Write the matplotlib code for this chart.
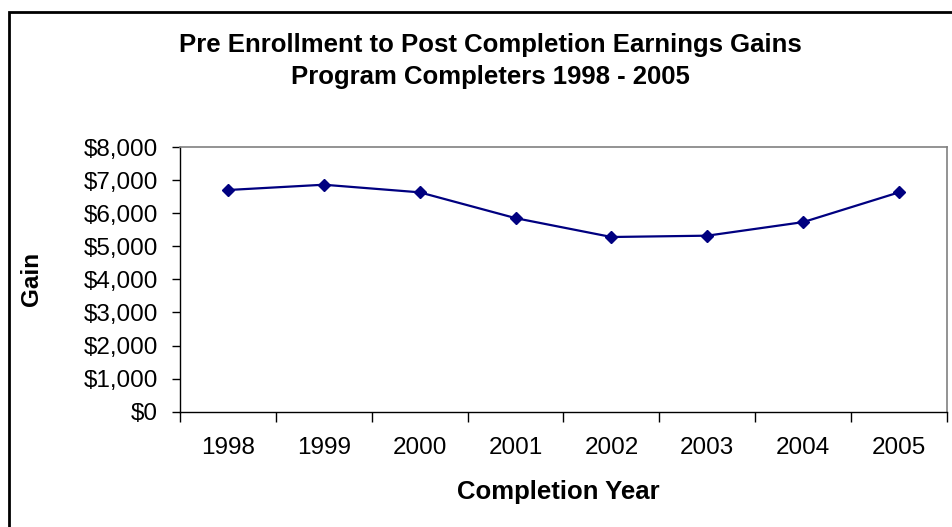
import matplotlib.pyplot as plt
from matplotlib.patches import Rectangle
from matplotlib.ticker import FuncFormatter, FixedLocator

plt.rcParams['font.family'] = ['Liberation Sans', 'DejaVu Sans']

years = ["1998", "1999", "2000", "2001", "2002", "2003", "2004", "2005"]
gains = [6700, 6860, 6630, 5850, 5280, 5320, 5730, 6630]

W, H = 953, 527
fig = plt.figure(figsize=(W / 100, H / 100), dpi=100)
ax = fig.add_axes([180 / W, 1 - 411.7 / H, 767 / W, 264.7 / H])

x = list(range(len(years)))
ax.plot(x, gains, color="#000080", linewidth=1.6, marker="D", markersize=6,
        markerfacecolor="#000080", markeredgecolor="#000080")

ax.set_xlim(-0.5, len(years) - 0.5)
ax.set_ylim(0, 8000)
ax.set_yticks(range(0, 8001, 1000))
ax.yaxis.set_major_formatter(FuncFormatter(lambda v, p: "${:,.0f}".format(v)))

# category labels sit between tick marks drawn at the boundaries
ax.set_xticks(x)
ax.set_xticklabels(years)
ax.xaxis.set_minor_locator(FixedLocator([i - 0.5 for i in range(len(years) + 1)]))
ax.tick_params(axis="x", which="major", length=0, pad=18, labelsize=17.5)
ax.tick_params(axis="x", which="minor", length=7, width=1, direction="out")
ax.tick_params(axis="y", length=6, width=1, direction="out", pad=10, labelsize=17.5)

for side in ("top", "right"):
    ax.spines[side].set_color("#808080")
    ax.spines[side].set_linewidth(1.2)
for side in ("left", "bottom"):
    ax.spines[side].set_color("black")
    ax.spines[side].set_linewidth(1.0)

fig.text(558 / W, 1 - 492 / H, "Completion Year", ha="center", va="center",
         fontsize=18.5, fontweight="bold")
fig.text(32 / W, 1 - 279 / H, "Gain", ha="center", va="center", rotation=90,
         fontsize=17.5, fontweight="bold")

fig.text(490 / W, 1 - 45 / H, "Pre Enrollment to Post Completion Earnings Gains",
         ha="center", va="center", fontsize=18.5, fontweight="bold")
fig.text(490 / W, 1 - 77 / H, "Program Completers 1998 - 2005",
         ha="center", va="center", fontsize=18.5, fontweight="bold")

# outer chart-area frame
fig.patches.append(Rectangle((9.5 / W, -0.1), 1.2, 1.1 - 12 / H,
                             transform=fig.transFigure, fill=False,
                             edgecolor="black", linewidth=2))

fig.savefig("out.png", dpi=100)
